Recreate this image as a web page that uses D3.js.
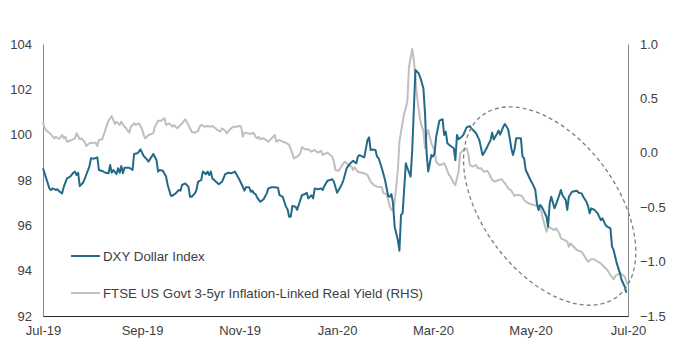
<!DOCTYPE html>
<html><head><meta charset="utf-8">
<script src="https://cdn.jsdelivr.net/npm/d3@7"></script>
<style>body{margin:0;background:#fff}svg{display:block}</style>
</head><body>
<svg id="chart" width="676" height="349"></svg>
<script>
const leftTicks = [92, 94, 96, 98, 100, 102, 104];
const rightTicks = [-1.5, -1.0, -0.5, 0.0, 0.5, 1.0];
const xTickDates = ["2019-07-01","2019-09-01","2019-11-01","2020-01-01","2020-03-01","2020-05-01","2020-07-01"];
const xTickLabels = ["Jul-19","Sep-19","Nov-19","Jan-20","Mar-20","May-20","Jul-20"];
const seriesNames = ["DXY Dollar Index", "FTSE US Govt 3-5yr Inflation-Linked Real Yield (RHS)"];

const dxyData = [
["2019-07-01",98.52],["2019-07-03",98.07],["2019-07-05",97.63],["2019-07-06",97.56],["2019-07-07",97.63],["2019-07-09",97.56],["2019-07-10",97.59],["2019-07-11",97.51],["2019-07-13",97.41],["2019-07-14",97.70],["2019-07-16",98.07],["2019-07-18",98.15],["2019-07-20",98.32],["2019-07-21",98.37],["2019-07-22",98.22],["2019-07-23",98.32],["2019-07-24",97.73],["2019-07-26",97.88],["2019-07-27",98.03],["2019-07-28",98.22],["2019-07-30",98.59],["2019-07-31",98.96],
["2019-08-02",98.94],["2019-08-04",99.00],["2019-08-05",98.44],["2019-08-07",98.40],["2019-08-09",98.32],["2019-08-11",98.30],["2019-08-12",98.66],["2019-08-13",98.32],["2019-08-14",98.44],["2019-08-16",98.26],["2019-08-17",98.52],["2019-08-18",98.32],["2019-08-19",98.62],["2019-08-20",98.30],["2019-08-21",98.54],["2019-08-24",98.54],["2019-08-26",98.44],["2019-08-27",99.15],["2019-08-29",99.18],["2019-08-30",99.25],["2019-08-31",99.35],
["2019-09-02",99.06],["2019-09-04",98.91],["2019-09-05",98.81],["2019-09-08",99.15],["2019-09-10",98.88],["2019-09-11",98.37],["2019-09-12",98.44],["2019-09-14",98.41],["2019-09-16",98.15],["2019-09-17",97.78],["2019-09-19",97.31],["2019-09-20",97.31],["2019-09-22",97.41],["2019-09-24",97.56],["2019-09-25",97.53],["2019-09-26",97.78],["2019-09-28",97.85],["2019-09-30",97.70],
["2019-10-01",97.26],["2019-10-02",97.26],["2019-10-04",97.41],["2019-10-05",97.56],["2019-10-06",97.92],["2019-10-08",98.00],["2019-10-09",98.37],["2019-10-11",98.26],["2019-10-12",98.37],["2019-10-13",98.22],["2019-10-14",98.37],["2019-10-15",98.07],["2019-10-19",97.81],["2019-10-21",97.92],["2019-10-23",98.26],["2019-10-25",98.32],["2019-10-27",98.30],["2019-10-29",98.37],["2019-10-30",98.26],
["2019-11-01",98.00],["2019-11-03",97.70],["2019-11-04",97.53],["2019-11-05",97.68],["2019-11-07",97.68],["2019-11-08",97.48],["2019-11-09",97.53],["2019-11-10",97.41],["2019-11-11",97.38],["2019-11-12",97.22],["2019-11-14",97.04],["2019-11-16",97.15],["2019-11-18",97.41],["2019-11-19",97.63],["2019-11-21",97.68],["2019-11-23",97.68],["2019-11-25",97.66],["2019-11-26",97.33],["2019-11-28",97.26],["2019-11-30",96.82],
["2019-12-01",96.71],["2019-12-02",96.38],["2019-12-03",96.38],["2019-12-04",96.85],["2019-12-06",96.82],["2019-12-07",96.68],["2019-12-09",97.12],["2019-12-10",97.33],["2019-12-12",97.38],["2019-12-13",97.44],["2019-12-14",97.19],["2019-12-16",97.33],["2019-12-17",97.19],["2019-12-18",97.63],["2019-12-20",97.59],["2019-12-22",97.63],["2019-12-23",97.56],["2019-12-24",97.73],["2019-12-26",97.97],["2019-12-29",98.03],["2019-12-30",97.92],["2019-12-31",97.68],
["2020-01-01",97.44],["2020-01-03",97.68],["2020-01-04",97.82],["2020-01-05",98.00],["2020-01-07",98.52],["2020-01-09",98.71],["2020-01-11",98.85],["2020-01-13",98.74],["2020-01-14",99.03],["2020-01-15",99.10],["2020-01-17",99.03],["2020-01-18",99.00],["2020-01-20",99.76],["2020-01-21",99.88],["2020-01-22",99.32],["2020-01-23",99.35],["2020-01-25",99.32],["2020-01-26",99.03],["2020-01-27",98.96],["2020-01-29",98.52],["2020-01-31",98.00],
["2020-02-02",97.28],["2020-02-03",97.26],["2020-02-04",97.38],["2020-02-05",96.97],["2020-02-06",95.94],["2020-02-08",95.35],["2020-02-09",94.88],["2020-02-10",96.46],["2020-02-11",96.53],["2020-02-12",97.63],["2020-02-13",98.74],["2020-02-14",98.52],["2020-02-16",98.15],["2020-02-17",99.32],["2020-02-18",101.09],["2020-02-19",102.85],["2020-02-21",102.71],["2020-02-22",102.53],["2020-02-24",102.05],["2020-02-25",100.94],["2020-02-26",99.18],["2020-02-27",98.37],["2020-02-28",98.74],["2020-02-29",99.10],
["2020-03-01",99.03],["2020-03-02",99.18],["2020-03-03",99.91],["2020-03-05",100.62],["2020-03-07",100.68],["2020-03-08",99.99],["2020-03-09",100.13],["2020-03-10",99.62],["2020-03-12",99.50],["2020-03-14",99.40],["2020-03-15",98.88],["2020-03-16",99.99],["2020-03-17",99.80],["2020-03-19",99.91],["2020-03-20",99.99],["2020-03-22",100.32],["2020-03-24",100.38],["2020-03-25",100.28],["2020-03-28",100.06],["2020-03-30",99.76],
["2020-04-01",99.10],["2020-04-02",99.20],["2020-04-04",99.47],["2020-04-06",99.76],["2020-04-07",100.09],["2020-04-08",99.79],["2020-04-10",100.03],["2020-04-11",100.18],["2020-04-12",100.00],["2020-04-14",100.35],["2020-04-15",100.47],["2020-04-17",100.24],["2020-04-18",99.84],["2020-04-19",99.40],["2020-04-20",99.10],["2020-04-21",99.35],["2020-04-22",99.84],["2020-04-25",99.84],["2020-04-26",99.03],["2020-04-27",98.96],["2020-04-28",98.44],["2020-04-29",98.30],
["2020-05-01",98.00],["2020-05-03",97.73],["2020-05-04",97.56],["2020-05-05",96.97],["2020-05-06",96.68],["2020-05-07",96.90],["2020-05-08",96.82],["2020-05-09",96.68],["2020-05-11",96.38],["2020-05-12",95.94],["2020-05-13",96.97],["2020-05-14",97.26],["2020-05-16",96.75],["2020-05-18",97.12],["2020-05-20",97.56],["2020-05-21",97.33],["2020-05-23",97.12],["2020-05-24",96.68],["2020-05-25",97.26],["2020-05-27",97.48],["2020-05-30",97.53],["2020-05-31",97.44],
["2020-06-02",97.41],["2020-06-03",97.26],["2020-06-05",97.04],["2020-06-06",96.85],["2020-06-07",96.53],["2020-06-08",96.75],["2020-06-10",96.68],["2020-06-12",96.53],["2020-06-14",96.23],["2020-06-15",96.31],["2020-06-17",96.01],["2020-06-18",95.94],["2020-06-20",95.87],["2020-06-21",95.06],["2020-06-22",94.91],["2020-06-24",94.32],["2020-06-26",93.88],["2020-06-27",93.59],["2020-06-29",93.29],["2020-06-30",93.03]
];

const yieldData = [
["2019-07-01",0.286],["2019-07-02",0.225],["2019-07-04",0.194],["2019-07-06",0.170],["2019-07-08",0.133],["2019-07-09",0.148],["2019-07-11",0.127],["2019-07-13",0.164],["2019-07-14",0.133],["2019-07-15",0.148],["2019-07-16",0.102],["2019-07-19",0.118],["2019-07-21",0.133],["2019-07-22",0.179],["2019-07-24",0.124],["2019-07-25",0.133],["2019-07-27",0.102],["2019-07-28",0.063],["2019-07-30",0.087],
["2019-08-01",0.093],["2019-08-03",0.093],["2019-08-04",0.063],["2019-08-05",0.118],["2019-08-07",0.124],["2019-08-08",0.164],["2019-08-10",0.256],["2019-08-11",0.295],["2019-08-13",0.338],["2019-08-15",0.265],["2019-08-16",0.286],["2019-08-18",0.256],["2019-08-19",0.286],["2019-08-21",0.240],["2019-08-22",0.225],["2019-08-24",0.185],["2019-08-25",0.240],["2019-08-27",0.271],["2019-08-28",0.256],["2019-08-30",0.271],
["2019-09-01",0.216],["2019-09-02",0.164],["2019-09-03",0.133],["2019-09-05",0.164],["2019-09-08",0.179],["2019-09-09",0.240],["2019-09-11",0.295],["2019-09-13",0.295],["2019-09-14",0.308],["2019-09-15",0.317],["2019-09-16",0.256],["2019-09-18",0.271],["2019-09-20",0.240],["2019-09-21",0.256],["2019-09-23",0.225],["2019-09-24",0.240],["2019-09-26",0.271],["2019-09-28",0.308],["2019-09-30",0.256],
["2019-10-02",0.194],["2019-10-04",0.185],["2019-10-06",0.200],["2019-10-07",0.240],["2019-10-08",0.256],["2019-10-10",0.240],["2019-10-12",0.246],["2019-10-14",0.240],["2019-10-15",0.246],["2019-10-17",0.225],["2019-10-18",0.210],["2019-10-20",0.194],["2019-10-21",0.225],["2019-10-23",0.203],["2019-10-24",0.179],["2019-10-26",0.216],["2019-10-28",0.240],["2019-10-30",0.240],
["2019-11-01",0.246],["2019-11-02",0.240],["2019-11-03",0.148],["2019-11-04",0.185],["2019-11-06",0.179],["2019-11-08",0.173],["2019-11-09",0.185],["2019-11-10",0.179],["2019-11-11",0.148],["2019-11-12",0.133],["2019-11-13",0.148],["2019-11-14",0.124],["2019-11-16",0.133],["2019-11-19",0.102],["2019-11-21",0.133],["2019-11-23",0.164],["2019-11-24",0.102],["2019-11-26",0.118],["2019-11-28",0.102],["2019-11-30",0.093],
["2019-12-02",0.072],["2019-12-04",-0.005],["2019-12-05",-0.051],["2019-12-07",-0.036],["2019-12-09",-0.005],["2019-12-10",0.051],["2019-12-12",0.032],["2019-12-14",0.032],["2019-12-16",0.010],["2019-12-18",0.026],["2019-12-20",0.001],["2019-12-22",0.019],["2019-12-23",-0.020],["2019-12-24",-0.011],["2019-12-26",0.001],["2019-12-27",-0.011],["2019-12-29",-0.036],["2019-12-30",-0.082],["2019-12-31",-0.158],
["2020-01-02",-0.165],["2020-01-03",-0.142],["2020-01-05",-0.096],["2020-01-06",-0.082],["2020-01-08",-0.112],["2020-01-10",-0.128],["2020-01-11",-0.158],["2020-01-12",-0.133],["2020-01-14",-0.174],["2020-01-16",-0.183],["2020-01-18",-0.188],["2020-01-20",-0.204],["2020-01-22",-0.266],["2020-01-24",-0.296],["2020-01-26",-0.312],["2020-01-29",-0.317],["2020-01-30",-0.372],
["2020-02-01",-0.379],["2020-02-02",-0.434],["2020-02-03",-0.495],["2020-02-04",-0.526],["2020-02-05",-0.532],["2020-02-06",-0.449],["2020-02-07",-0.312],["2020-02-08",-0.158],["2020-02-09",0.102],["2020-02-10",0.194],["2020-02-12",0.363],["2020-02-13",0.409],["2020-02-14",0.485],["2020-02-15",0.791],["2020-02-17",0.954],["2020-02-18",0.853],["2020-02-19",0.699],["2020-02-20",0.516],["2020-02-22",0.301],["2020-02-23",0.240],["2020-02-24",0.203],["2020-02-25",0.041],["2020-02-26",0.164],["2020-02-27",0.210],["2020-02-28",0.148],["2020-02-29",0.087],
["2020-03-01",0.056],["2020-03-02",0.010],["2020-03-03",-0.082],["2020-03-05",-0.112],["2020-03-06",-0.112],["2020-03-08",-0.096],["2020-03-09",-0.128],["2020-03-11",-0.204],["2020-03-12",-0.220],["2020-03-14",-0.280],["2020-03-15",-0.296],["2020-03-17",-0.174],["2020-03-18",-0.005],["2020-03-20",0.026],["2020-03-22",0.041],["2020-03-23",-0.005],["2020-03-24",-0.112],["2020-03-26",-0.128],["2020-03-28",-0.112],["2020-03-29",-0.142],["2020-03-31",-0.142],
["2020-04-02",-0.174],["2020-04-04",-0.165],["2020-04-05",-0.188],["2020-04-07",-0.250],["2020-04-09",-0.266],["2020-04-11",-0.250],["2020-04-13",-0.244],["2020-04-15",-0.280],["2020-04-17",-0.326],["2020-04-19",-0.348],["2020-04-21",-0.397],["2020-04-22",-0.388],["2020-04-24",-0.388],["2020-04-26",-0.403],["2020-04-27",-0.434],["2020-04-29",-0.459],
["2020-05-01",-0.471],["2020-05-03",-0.480],["2020-05-05",-0.489],["2020-05-07",-0.510],["2020-05-08",-0.556],["2020-05-09",-0.618],["2020-05-11",-0.725],["2020-05-12",-0.679],["2020-05-14",-0.694],["2020-05-16",-0.710],["2020-05-17",-0.694],["2020-05-19",-0.740],["2020-05-20",-0.786],["2020-05-22",-0.801],["2020-05-24",-0.817],["2020-05-25",-0.863],["2020-05-26",-0.832],["2020-05-28",-0.863],["2020-05-30",-0.893],
["2020-06-02",-0.909],["2020-06-04",-0.955],["2020-06-06",-1.001],["2020-06-08",-0.979],["2020-06-10",-0.979],["2020-06-12",-1.001],["2020-06-14",-1.016],["2020-06-16",-1.047],["2020-06-18",-1.077],["2020-06-20",-1.123],["2020-06-22",-1.163],["2020-06-23",-1.132],["2020-06-26",-1.108],["2020-06-27",-1.114],["2020-06-29",-1.139],["2020-06-30",-1.185],["2020-07-01",-1.215]
];

// annotation ellipse centre (date, DXY level)
const ellipseCentre = ["2020-05-13", 96.85];

const parse = d3.timeParse("%Y-%m-%d");
const W = 676, H = 349;
const m = {top: 44, right: 48, bottom: 33, left: 43};
const svg = d3.select("#chart");
const font = "'Liberation Sans', Arial, sans-serif";

const x = d3.scaleTime().domain([parse("2019-07-01"), parse("2020-07-01")]).range([m.left, W - m.right]);
const yL = d3.scaleLinear().domain([92, 104]).range([H - m.bottom, m.top]);
const yR = d3.scaleLinear().domain([-1.5, 1.0]).range([H - m.bottom, m.top]);

// axes
const gL = svg.append("g").attr("transform", `translate(${m.left},0)`)
  .call(d3.axisLeft(yL).tickValues(leftTicks).tickSize(0).tickPadding(11).tickFormat(d3.format("d")));
gL.select(".domain").attr("stroke", "#8a8a8a");
const gR = svg.append("g").attr("transform", `translate(${W - m.right},0)`)
  .call(d3.axisRight(yR).tickValues(rightTicks).tickSize(0).tickPadding(12).tickFormat(d3.format(".1f")));
gR.select(".domain").attr("stroke", "#8a8a8a");
const gB = svg.append("g").attr("transform", `translate(0,${H - m.bottom})`)
  .call(d3.axisBottom(x).tickValues(xTickDates.map(parse)).tickSize(0).tickPadding(10)
    .tickFormat((d, i) => xTickLabels[i]));
gB.select(".domain").attr("stroke", "#262626");
svg.selectAll(".tick text").attr("font-family", font).attr("font-size", 13).attr("fill", "#404040");

// lines
const lineR = d3.line().x(d => x(parse(d[0]))).y(d => yR(d[1]));
const lineL = d3.line().x(d => x(parse(d[0]))).y(d => yL(d[1]));
svg.append("path").datum(yieldData).attr("d", lineR).attr("fill", "none")
  .attr("stroke", "#bfbfbf").attr("stroke-width", 2).attr("stroke-linejoin", "round");
svg.append("path").datum(dxyData).attr("d", lineL).attr("fill", "none")
  .attr("stroke", "#236a88").attr("stroke-width", 2).attr("stroke-linejoin", "round");

// ellipse annotation
svg.append("ellipse")
  .attr("transform", `translate(${x(parse(ellipseCentre[0]))},${yL(ellipseCentre[1])}) rotate(53.5)`)
  .attr("rx", 113).attr("ry", 67)
  .attr("fill", "none").attr("stroke", "#7f7f7f").attr("stroke-width", 1.3).attr("stroke-dasharray", "4,3");

// legend
const legend = [{name: seriesNames[0], color: "#236a88", y: 256}, {name: seriesNames[1], color: "#bfbfbf", y: 293}];
const lg = svg.append("g");
legend.forEach(l => {
  lg.append("line").attr("x1", 71).attr("x2", 100).attr("y1", l.y).attr("y2", l.y)
    .attr("stroke", l.color).attr("stroke-width", 2);
  lg.append("text").attr("x", 103).attr("y", l.y).attr("dy", "0.35em")
    .attr("font-family", font).attr("font-size", 13.3).attr("fill", "#404040").text(l.name);
});
</script>
</body></html>
